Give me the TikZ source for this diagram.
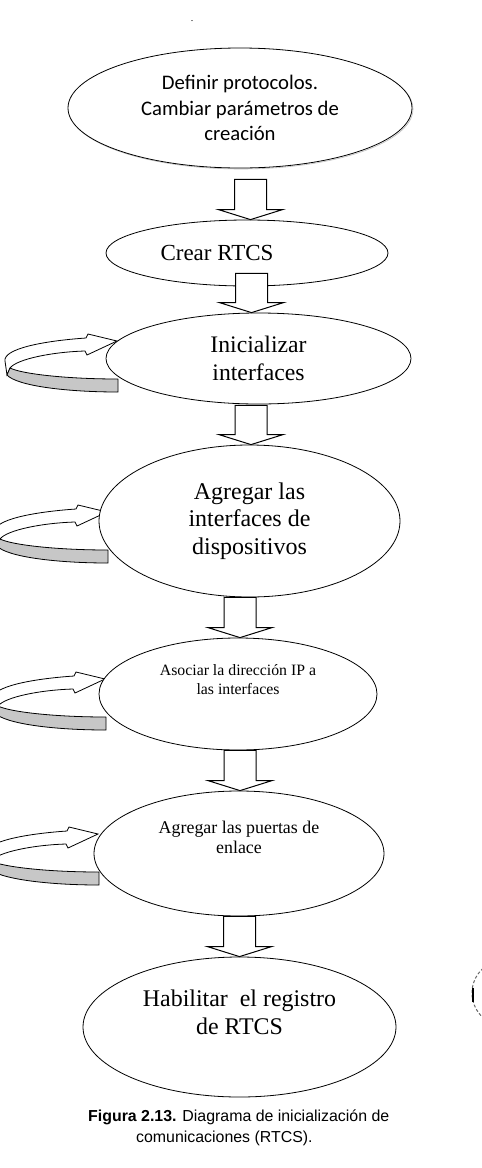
\documentclass[tikz,border=0pt]{standalone}
\usepackage{fontspec}
\setmainfont{Liberation Serif}
\newfontfamily\calibrifont{Carlito}
\newfontfamily\arialfont{Liberation Sans}
\usetikzlibrary{calc,shapes.geometric}

\begin{document}
\begin{tikzpicture}[x=1pt,y=-1pt,line join=round]
\useasboundingbox[fill=white] (0,0) rectangle (482,1168);
\tikzset{stage/.style={draw,ellipse,fill=white,line width=0.8pt,inner sep=0pt},
  blockarrow/.style={draw,fill=white,line width=1pt,line join=miter,to path={let \p1=(\tikztostart),\p2=(\tikztotarget) in
    (\x1-16pt,\y1) -- (\x1-16pt,\y2+10pt) -- (\x1-32pt,\y2+10pt) -- (\x1,\y2) -- (\x1+32pt,\y2+10pt) -- (\x1+16pt,\y2+10pt) -- (\x1+16pt,\y1) -- cycle}},
  pics/loopback/.style={code={
    \path[draw,fill=white,line width=0.8pt,line join=miter] (-31,-3) .. controls (-75,0) and (-114,8) .. (-112,20) -- (-110,34) -- (-107,27) .. controls (-100,18) and (-65,11) .. (-32,10) -- (-30,14) -- (0,0) -- (-29,-7) -- cycle;
    \path[draw,fill=black!22,line width=0.8pt] (-107,27) .. controls (-95,33) and (-50,38) .. (1,38) -- (1,51) .. controls (-50,51) and (-100,45) .. (-110,34) -- cycle;}}}
\node[anchor=base,font=\fontsize{10}{12}\selectfont] (dot) at (192,21) {.};
% feedback loops
\pic at (117,341) {loopback};
\pic at (107,512) {loopback};
\pic at (105,679) {loopback};
\pic at (98,834) {loopback};
% stages
\node[stage,draw=black!25,line width=0.6pt,minimum width=344pt,minimum height=120pt] (def-shade) at (241,109) {};
\node[stage,minimum width=344pt,minimum height=120pt,align=center,font=\calibrifont\fontsize{20.7}{25.3}\selectfont] (def) at (240,108) {Definir protocolos.\\Cambiar parámetros de\\creación};
\node[stage,minimum width=282pt,minimum height=66pt,label={[font=\fontsize{23}{27}\selectfont,xshift=-30pt]center:Crear RTCS}] (crear) at (247,253) {};
\node[stage,minimum width=305pt,minimum height=91pt,align=center,font=\fontsize{23.7}{28}\selectfont] (init) at (258.5,358.5) {Inicializar\\interfaces};
\node[stage,minimum width=301pt,minimum height=152pt,align=center,font=\fontsize{24}{27.5}\selectfont] (agregar) at (249.5,521) {Agregar las\\interfaces de\\dispositivos};
\node[stage,minimum width=278pt,minimum height=112pt,label={[font=\fontsize{15.8}{19}\selectfont,align=center,yshift=14pt]center:Asociar la dirección IP a\\las interfaces}] (asociar) at (238,694) {};
\node[stage,minimum width=290pt,minimum height=125pt,label={[font=\fontsize{17.9}{20.7}\selectfont,align=center,yshift=16pt]center:Agregar las puertas de\\enlace}] (puertas) at (239,853.5) {};
\node[stage,minimum width=313pt,minimum height=140pt,label={[font=\fontsize{23.9}{28}\selectfont,align=center,yshift=15pt]center:Habilitar\ \ el registro\\de RTCS}] (habilitar) at (239.5,1027) {};
% flow
\draw[blockarrow] ($(def.south)+(10.5,11)$) to (crear.north);
\draw[blockarrow] ($(crear.south)+(4.5,-13)$) to (init.north);
\draw[blockarrow] ($(init.south)+(-7.5,1)$) to (agregar.north);
\draw[blockarrow] ($(agregar.south)+(-9.5,0)$) to (asociar.north);
\draw[blockarrow] ($(asociar.south)+(2,0)$) to (puertas.north);
\draw[blockarrow] ($(puertas.south)+(0.5,0)$) to (habilitar.north);
% scan edge
\draw[black!60,densely dashed,line width=1pt] (505,993) ++(128:33) arc[start angle=128,end angle=232,radius=33];
\draw[line width=2.5pt] (473,988) -- (473,1002);
\node[anchor=base west,align=left,inner sep=0pt,font=\arialfont\fontsize{15.9}{20.5}\selectfont] (caption) at (88,1142) {\textbf{Figura 2.13.} Diagrama de inicialización de\\\hspace*{48pt}comunicaciones (RTCS).};
\end{tikzpicture}
\end{document}
